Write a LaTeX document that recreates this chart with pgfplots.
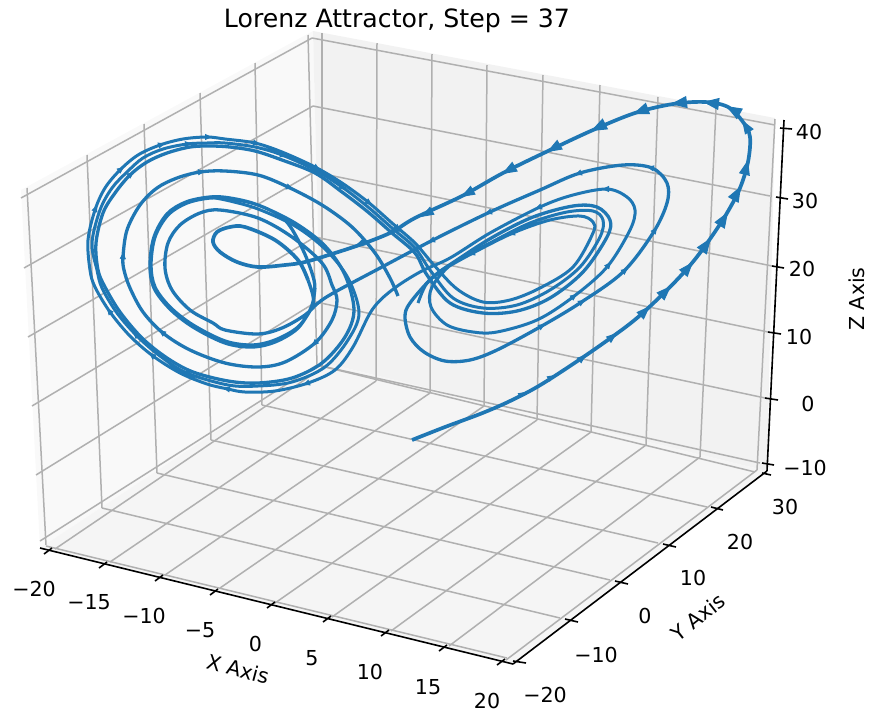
\documentclass[border=0pt]{standalone}
\usepackage{fontspec}
\setmainfont{DejaVu Sans}
\usepackage{pgfplots}
\pgfplotsset{compat=1.18}
\usetikzlibrary{arrows.meta}
\definecolor{gridc}{HTML}{B0B0B0}
\definecolor{tabblue}{HTML}{1F77B4}
\newcommand\gl[4]{\addplot[gridc,line width=1.5pt] coordinates {(#1,#2)(#3,#4)};}
\newcommand\bl[4]{\addplot[black,line width=1.6pt] coordinates {(#1,#2)(#3,#4)};}
% arrowhead: a short piece of the curve, with a tip (length, width)
\newcommand\arr[6]{\addplot[tabblue,line width=1pt,-{Triangle[length=#5pt,width=#6pt]}] coordinates {(#1,#2)(#3,#4)};}
\newcommand\sar[4]{\addplot[tabblue,line width=1pt,-{Triangle[length=7pt,width=6pt]}] coordinates {(#1,#2)(#3,#4)};}
\newcommand\tl[3]{\node[font=\fontsize{20.6}{24}\selectfont] at (axis cs:#1,#2) {#3};}
\begin{document}
\begin{tikzpicture}
\path[use as bounding box] (0,0) rectangle (870pt,713pt);
\begin{axis}[at={(0,0)},anchor=south west,scale only axis,width=870pt,height=713pt,xmin=0,xmax=870,ymin=0,ymax=713,y dir=reverse,
  hide axis,clip=false,no marks,
  every axis plot/.append style={line join=round}]
% panes
\addplot[fill=black!2.5,draw=none] coordinates {(21,190)(313,31)(321,362)(40,548)} --cycle;
\addplot[fill=black!5,draw=none] coordinates {(313,31)(775,118)(767,471)(321,362)} --cycle;
\addplot[fill=black!4,draw=none] coordinates {(40,548)(321,362)(767,471)(513,664)} --cycle;
% left wall
\gl{27}{188}{46}{545}\gl{87}{155}{102}{508}\gl{144}{124}{157}{473}\gl{200}{93}{211}{440}\gl{255}{63}{262}{405}\gl{308}{35}{317}{365}
\gl{21}{198}{312}{38}\gl{24}{268}{313}{106}\gl{28}{337}{314}{172}\gl{32}{406}{315}{237}\gl{36}{475}{316}{302}\gl{40}{541}{317}{365}
% back wall
\gl{322}{33}{322}{368}\gl{377}{43}{376}{381}\gl{432}{54}{430}{393}\gl{487}{65}{484}{406}\gl{543}{75}{537}{420}\gl{600}{85}{591}{432}\gl{658}{97}{646}{445}\gl{716}{108}{700}{457}\gl{775}{119}{757}{470}
\gl{312}{38}{775}{125}\gl{313}{106}{770}{196}\gl{314}{172}{772}{266}\gl{315}{237}{768}{332}\gl{316}{302}{765}{398}\gl{317}{365}{760}{463}
% floor
\gl{55}{549}{322}{368}\gl{110}{562}{376}{381}\gl{165}{575}{430}{393}\gl{220}{588}{484}{406}\gl{275}{603}{537}{420}\gl{332}{617}{591}{432}\gl{391}{631}{646}{445}\gl{449}{646}{700}{457}\gl{506}{660}{757}{470}
\gl{46}{546}{507}{658}\gl{102}{508}{560}{618}\gl{157}{473}{610}{580}\gl{211}{440}{658}{543}\gl{262}{405}{707}{507}\gl{317}{365}{755}{472}
% axis lines and ticks
\bl{40}{548}{513}{664}\bl{513}{664}{767}{471}\bl{767}{471}{784}{120}
\bl{44}{554}{52}{548}\bl{99}{568}{107}{562}\bl{155}{581}{163}{575}\bl{210}{595}{218}{589}\bl{267}{608}{275}{602}\bl{323}{622}{331}{616}\bl{381}{636}{389}{630}\bl{439}{651}{447}{645}\bl{497}{665}{505}{659}
\bl{513}{661}{526}{663}\bl{565}{619}{578}{622}\bl{615}{581}{628}{584}\bl{663}{544}{676}{547}\bl{711}{507}{723}{510}\bl{762}{473}{771}{475}
\bl{780}{128}{792}{129}\bl{776}{197}{788}{199}\bl{772}{266}{784}{268}\bl{768}{332}{781}{334}\bl{765}{398}{778}{400}\bl{762}{463}{774}{465}
% the first, thick stretch and the inner loop
\addplot[tabblue,line width=3.7pt,smooth,tension=0.55] coordinates {(412,440)(445,427)(480,414)(508,402)(537,387)(570,366)(605,342)(637,318)(670,287)(692,263)(710,239)(727,213)(740,188)(748,162)(750,137)(743,122)(728,107)(705,102)(673,104)(635,113)(593,130)(548,151)(503,173)(462,196)(415,218)(392,232)(365,243)(335,253)(305,262)(285,265)(258,267)(237,262)(220,252)(213,242)(217,232)(230,227)(245,227)(275,240)(298,260)(308,280)};
% the thick band, then the inner outer ring
\addplot[tabblue,line width=3.3pt,smooth,tension=0.55] coordinates {(308,280)(313,296)(312,307)(298,327)(275,340)(252,345)(225,341)(193,325)(170,307)(155,287)(151,265)(155,237)(168,215)(187,203)(210,198)(230,199)(258,205)(285,220)(303,250)(314,280)(314,296)(310,310)(297,329)(275,342)(252,347)(225,343)(193,327)(170,309)(154,288)(150,265)(154,237)(167,214)(186,202)(210,197)(230,198)(258,205)(295,223)(325,246)(345,275)(354,310)(345,337)(322,363)(292,378)(258,383)(228,381)(193,372)(167,358)(142,338)(120,312)(105,287)(98,270)(96,243)(103,213)(115,193)(130,175)(147,162)(167,153)(190,147)(210,146)(230,147)(255,151)(282,160)(315,173)(342,192)(368,212)(392,233)(415,253)(427,275)(450,303)(483,313)(517,311)(550,298)(583,272)(607,237)(610,220)(597,207)(573,206)(533,217)(493,237)(457,260)(433,277)(410,303)(405,317)(410,337)(424,352)(445,361)(470,360)(497,350)(540,327)(580,303)(623,272)(653,233)(667,203)(667,183)(652,168)(623,165)(580,173)(540,190)(490,212)(433,240)(382,267)(335,292)(318,303)(305,315)(282,328)(258,334)(225,330)(213,323)(190,310)(172,290)(165,268)(168,243)(180,225)(200,213)(220,210)(258,218)(292,237)(322,263)(332,285)(337,300)(332,320)(315,343)(285,362)(258,367)(225,363)(190,350)(163,333)(143,312)(130,288)(124,270)(123,257)(127,230)(140,205)(157,188)(177,178)(200,172)(225,171)(258,175)(288,187)(322,205)(352,227)(375,253)(390,278)(398,296)};
% the other two threads
\addplot[tabblue,line width=3pt,smooth,tension=0.55] coordinates {(210,197)(230,201)(258,209)(295,226)(325,249)(348,278)(359,313)(348,340)(325,367)(292,382)(258,386)(228,385)(187,373)(160,356)(137,336)(117,313)(102,288)(97,270)(92,243)(100,210)(112,188)(127,172)(143,158)(163,149)(187,144)(207,143)(225,143)(255,147)(282,155)(315,170)(342,187)(368,207)(392,228)(415,248)(430,270)(453,298)(483,308)(517,305)(550,290)(580,267)(600,237)(603,220)(593,211)(567,212)(530,223)(490,243)(453,263)(432,287)(431,307)(447,325)(473,332)(497,332)(537,320)(573,297)(607,267)(630,230)(635,210)(627,197)(607,189)(573,195)(540,207)(490,233)(450,258)(420,272)(392,290)(372,310)(353,347)(335,370)(308,383)(275,391)(245,392)(228,389)(207,384)(180,373)(153,356)(130,336)(110,312)(95,287)(90,270)(88,240)(95,210)(105,188)(120,170)(138,155)(160,145)(183,139)(207,137)(225,139)(255,143)(282,152)(315,167)(342,183)(368,202)(392,223)(415,243)(433,264)(457,289)(483,302)(510,300)(540,288)(573,267)(593,233)(593,222)(580,216)(550,220)(513,233)(473,253)(443,270)(427,283)(418,303)};
% large arrowheads
\arr{645}{311}{650}{306}{14}{10}\arr{665}{292}{671}{286}{15}{11}\arr{687}{269}{693}{262}{15}{11}\arr{706}{245}{711}{238}{16}{12}\arr{723}{220}{728}{212}{16}{12}\arr{736}{195}{741}{186}{16}{12}\arr{746}{168}{748}{160}{15}{11}
\arr{747}{128}{742}{120}{14}{10}\arr{733}{110}{726}{106}{16}{12}\arr{711}{103}{703}{102}{16}{12}\arr{679}{103}{671}{104}{16}{12}\arr{641}{111}{633}{114}{16}{12}\arr{599}{127}{591}{131}{16}{12}\arr{554}{148}{547}{152}{15}{11}\arr{509}{170}{502}{174}{15}{11}\arr{468}{193}{461}{197}{14}{10}\arr{428}{213}{421}{217}{13}{9}\arr{396}{229}{389}{232}{11}{8}\arr{362}{243}{355}{246}{10}{7}
\arr{612}{337}{617}{333}{11}{8}\arr{581}{359}{586}{355}{9}{7}\arr{550}{378}{555}{375}{8}{6}\arr{520}{395}{525}{392}{7}{5}
% small arrowheads
\sar{160}{145}{165}{143.5}\sar{207}{137}{212}{137}\sar{255}{143}{260}{144}\sar{315}{167}{320}{170}\sar{368}{202}{372}{205}\sar{120}{170}{124}{167}\sar{95}{210}{97}{205}\sar{110}{312}{107}{308}\sar{153}{356}{149}{353}\sar{228}{389}{223}{388}\sar{308}{383}{303}{385}
\sar{652}{168}{647}{167}\sar{580}{173}{575}{175}\sar{490}{212}{485}{214}\sar{433}{240}{428}{242}\sar{653}{233}{657}{227}\sar{623}{272}{628}{268}\sar{580}{303}{585}{300}\sar{540}{327}{545}{324}
\sar{130}{175}{134}{172}\sar{187}{144}{192}{143.5}\sar{282}{155}{287}{157}\sar{342}{187}{346}{190}\sar{137}{336}{133}{332}\sar{187}{373}{183}{371}
\sar{607}{189}{602}{189}\sar{540}{207}{535}{209}\sar{607}{267}{611}{262}\sar{573}{297}{577}{294}\sar{473}{253}{468}{255}\sar{513}{233}{508}{235}
\sar{200}{172}{205}{171.5}\sar{288}{187}{293}{189}\sar{123}{257}{123.5}{252}\sar{163}{333}{159}{330}\sar{315}{343}{312}{346}
% text
\node at (axis cs:397,21) {\fontsize{25.2}{28}\selectfont Lorenz Attractor, Step = 37};
\tl{34}{589}{−20}\tl{89}{602}{−15}\tl{144}{616}{−10}\tl{200}{630}{−5}\tl{255.5}{644}{0}\tl{312}{658}{5}\tl{370}{672}{10}\tl{428}{687}{15}\tl{487}{701}{20}
\tl{545}{695}{−20}\tl{596}{655}{−10}\tl{645}{616}{0}\tl{693}{578}{10}\tl{740}{542}{20}\tl{785}{507}{30}
\tl{809}{132}{40}\tl{805}{201}{30}\tl{802}{269}{20}\tl{799}{337}{10}\tl{808}{404}{0}\tl{805}{468}{−10}
\node[font=\fontsize{20.6}{24}\selectfont,rotate=-15] at (axis cs:238,669) {X Axis};
\node[font=\fontsize{20.6}{24}\selectfont,rotate=38] at (axis cs:698,617) {Y Axis};
\node[font=\fontsize{20.6}{24}\selectfont,rotate=90] at (axis cs:857,299) {Z Axis};
\end{axis}
\end{tikzpicture}
\end{document}
